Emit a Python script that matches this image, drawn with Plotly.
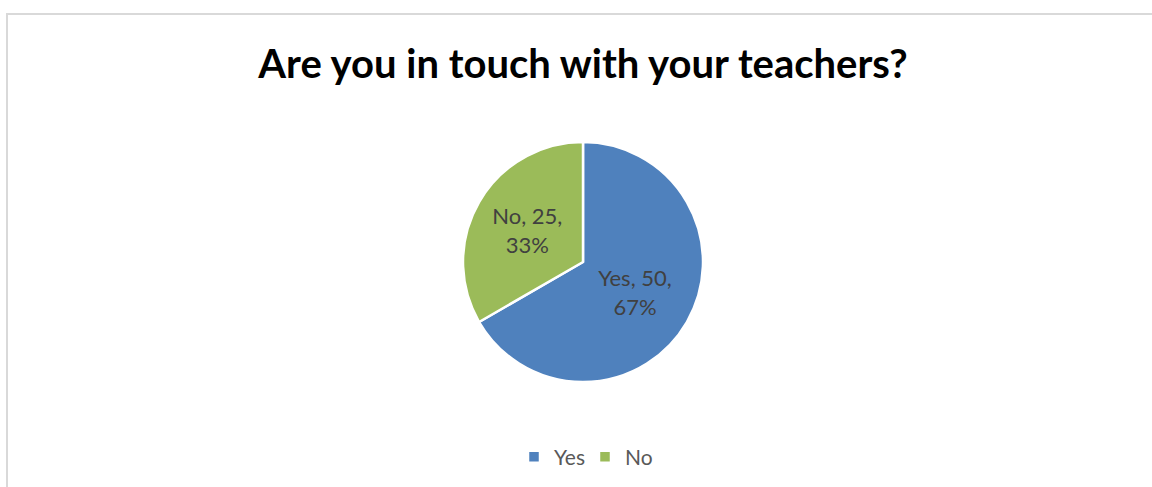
import plotly.graph_objects as go

labels = ["Yes", "No"]
values = [50, 25]
colors = ["#4F81BD", "#9BBB59"]
title_text = "Are you in touch with your teachers?"

W, H = 1152, 487

fig = go.Figure(go.Pie(
    labels=labels,
    values=values,
    marker=dict(colors=colors, line=dict(color="white", width=2.5)),
    sort=False,
    direction="clockwise",
    rotation=0,
    texttemplate="%{label}, %{value},<br>%{percent:.0%}",
    textposition="inside",
    insidetextorientation="horizontal",
    textfont=dict(family="Lato", size=22, color="#404040"),
    hoverinfo="label+value+percent",
    domain=dict(x=[463 / W, 703 / W], y=[1 - 382 / H, 1 - 142 / H]),
))

fig.update_layout(
    width=W, height=H,
    margin=dict(l=0, r=0, t=0, b=0),
    paper_bgcolor="white",
    plot_bgcolor="white",
    title=dict(
        text="<b>" + title_text + "</b>",
        x=583 / W, xanchor="center",
        y=1 - 64 / H, yanchor="middle",
        font=dict(family="Lato", size=40, color="#000000"),
    ),
    legend=dict(
        orientation="h",
        x=585 / W, xanchor="center",
        y=1 - 457 / H, yanchor="middle",
        font=dict(family="Lato", size=21, color="#595959"),
        itemwidth=30,
        entrywidth=26,
        entrywidthmode="pixels",
    ),
    shapes=[dict(
        type="rect", xref="paper", yref="paper",
        x0=7 / W, x1=1.05, y0=-0.05, y1=1 - 14 / H,
        line=dict(color="#D9D9D9", width=2),
        fillcolor="rgba(0,0,0,0)",
        layer="below",
    )],
)

fig.write_html(
    "out.html",
    config={"displayModeBar": False},
    post_script="document.body.style.margin='0px';document.body.style.overflow='hidden';",
)
